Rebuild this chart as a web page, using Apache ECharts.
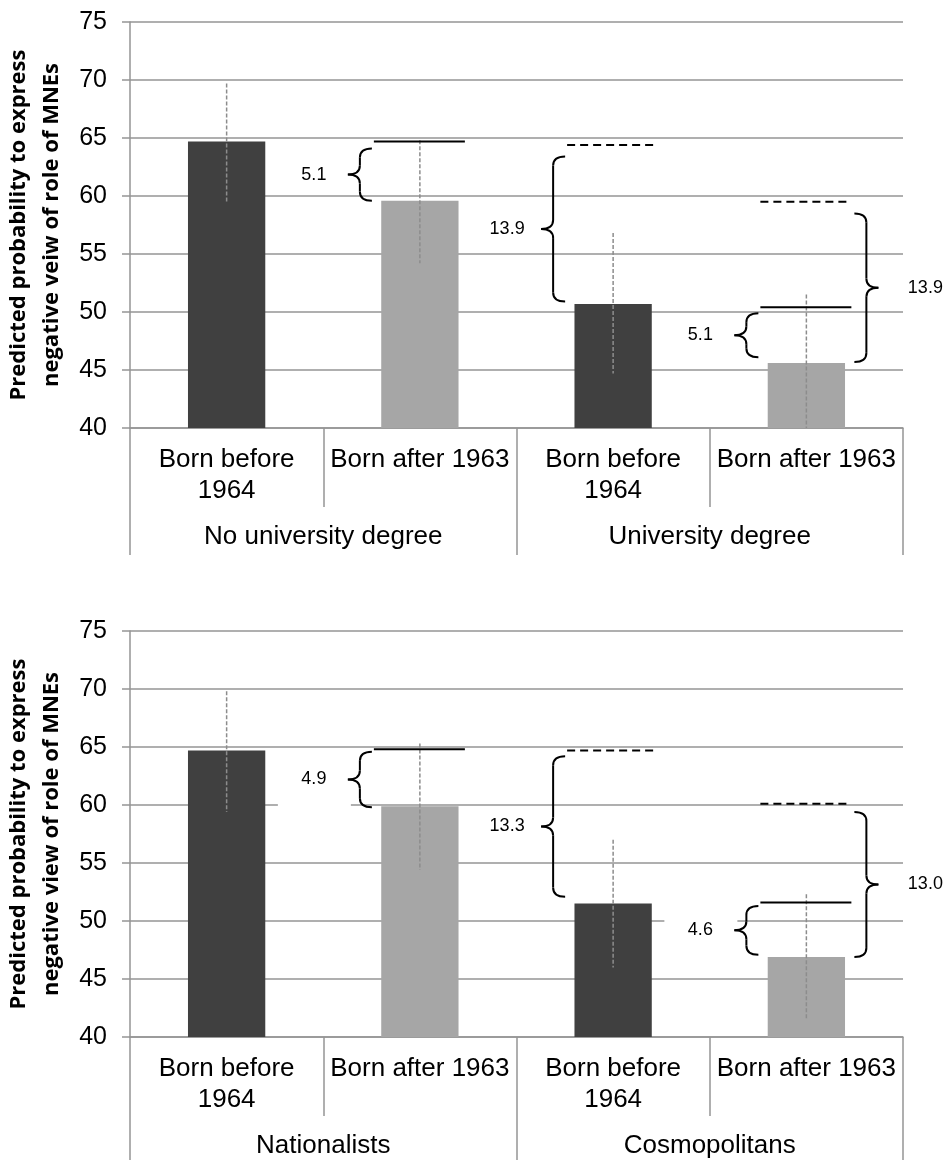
<!DOCTYPE html>
<html>
<head>
<meta charset="utf-8">
<script src="https://cdn.jsdelivr.net/npm/echarts@6/dist/echarts.min.js"></script>
<style>html,body{margin:0;padding:0;background:#fff;}#c{width:947px;height:1160px;}</style>
</head>
<body>
<div id="c"></div>
<script>
// ---- data ----
const categories = ['Born before\n1964', 'Born after 1963', 'Born before\n1964', 'Born after 1963'];
const topGroups = ['No university degree', 'University degree'];
const bottomGroups = ['Nationalists', 'Cosmopolitans'];
const yTicks = [40, 45, 50, 55, 60, 65, 70, 75];

const topValues = [64.7, 59.6, 50.7, 45.6];
const topErrHigh = [69.7, 64.8, 56.8, 51.5];
const topErrLow = [59.5, 54.2, 44.7, 39.7];

const bottomValues = [64.7, 59.9, 51.5, 46.9];
const bottomErrHigh = [69.8, 65.3, 57.0, 52.3];
const bottomErrLow = [59.4, 54.4, 46.0, 41.5];

// difference annotations (reference level line + brace + label)
const topRefCat = [1, 2, 3, 3];
const topRefLevel = [64.7, 64.4, 59.5, 50.4];
const topRefDashed = [false, true, true, false];
const topBraceHigh = [64.1, 63.4, 58.5, 49.9];
const topBraceLow = [59.6, 50.9, 45.7, 46.1];
const topBraceSide = ['left', 'left', 'right', 'left'];
const topBraceText = ['5.1', '13.9', '13.9', '5.1'];

const bottomRefCat = [1, 2, 3, 3];
const bottomRefLevel = [64.8, 64.7, 60.1, 51.6];
const bottomRefDashed = [false, true, true, false];
const bottomBraceHigh = [64.6, 64.2, 59.4, 51.3];
const bottomBraceLow = [59.8, 52.1, 46.9, 47.1];
const bottomBraceSide = ['left', 'left', 'right', 'left'];
const bottomBraceText = ['4.9', '13.3', '13.0', '4.6'];

// ---- styles ----
const GRID_COLOR = '#959595';
const DARK = '#404040', LIGHT = '#a6a6a6';
const FONT = '"Liberation Sans", Arial, sans-serif';

const panels = [
  { refCat: topRefCat, refLevel: topRefLevel, dashed: topRefDashed, high: topBraceHigh, low: topBraceLow,
    side: topBraceSide, text: topBraceText, boxed: [] },
  { refCat: bottomRefCat, refLevel: bottomRefLevel, dashed: bottomRefDashed, high: bottomBraceHigh, low: bottomBraceLow,
    side: bottomBraceSide, text: bottomBraceText, boxed: [0, 3] }
];

function braceElements(bx, yTop, yBot, dir) {
  const e = 12, r = 9;
  const endX = bx - dir * e, tipX = bx + dir * e;
  const ym = (yTop + yBot) / 2;
  const st = { stroke: '#000', lineWidth: 2, fill: null };
  return [
    { type: 'bezierCurve', shape: { x1: endX, y1: yTop, cpx1: bx, cpy1: yTop, x2: bx, y2: yTop + r }, style: st },
    { type: 'line', shape: { x1: bx, y1: yTop + r, x2: bx, y2: ym - r }, style: st },
    { type: 'bezierCurve', shape: { x1: bx, y1: ym - r, cpx1: bx, cpy1: ym, x2: tipX, y2: ym }, style: st },
    { type: 'bezierCurve', shape: { x1: tipX, y1: ym, cpx1: bx, cpy1: ym, x2: bx, y2: ym + r }, style: st },
    { type: 'line', shape: { x1: bx, y1: ym + r, x2: bx, y2: yBot - r }, style: st },
    { type: 'bezierCurve', shape: { x1: bx, y1: yBot - r, cpx1: bx, cpy1: yBot, x2: endX, y2: yBot }, style: st }
  ];
}

function annotationRenderer(p) {
  return function (params, api) {
    const a = panels[p];
    const i = api.value(0);
    const c = api.coord([a.refCat[i], a.refLevel[i]]);
    const cx = c[0], ly = c[1];
    const yTop = api.coord([a.refCat[i], a.high[i]])[1];
    const yBot = api.coord([a.refCat[i], a.low[i]])[1];
    const dir = a.side[i] === 'left' ? -1 : 1;
    const bx = cx + dir * 60;
    const ym = (yTop + yBot) / 2;
    const lx = dir < 0 ? cx - 106 : cx + 119;
    const children = [];
    if (a.boxed.indexOf(i) >= 0) {
      children.push({ type: 'rect', shape: { x: lx - 36, y: ym - 26, width: 73, height: 56 }, style: { fill: '#fff' } });
    }
    children.push({ type: 'line', shape: { x1: cx - 46, y1: ly, x2: cx + 45, y2: ly },
      style: { stroke: '#000', lineWidth: 2, lineDash: a.dashed[i] ? [8, 5] : null } });
    braceElements(bx, yTop, yBot, dir).forEach(el => children.push(el));
    children.push({ type: 'text', x: lx, y: ym,
      style: { text: a.text[i], fill: '#000', font: '18px ' + FONT, align: 'center', verticalAlign: 'middle' } });
    return { type: 'group', children: children };
  };
}

function errRenderer(low, high) {
  return function (params, api) {
    const i = api.value(0);
    const p1 = api.coord([i, high[i]]);
    const p2 = api.coord([i, low[i]]);
    return { type: 'line', shape: { x1: p1[0], y1: p1[1], x2: p2[0], y2: p2[1] },
      style: { stroke: '#8c8c8c', lineWidth: 1.5, lineDash: [4, 2] } };
  };
}

function yAxis(grid, name) {
  return {
    type: 'value', gridIndex: grid, min: yTicks[0], max: yTicks[yTicks.length - 1], interval: 5,
    axisLine: { show: true, lineStyle: { color: GRID_COLOR, width: 1.5 } },
    axisTick: { show: true, length: 8, lineStyle: { color: GRID_COLOR, width: 1.5 } },
    splitLine: { show: true, lineStyle: { color: GRID_COLOR, width: 1.5 } },
    axisLabel: { fontSize: 25, margin: 23, color: '#000', fontFamily: FONT },
    name: name, nameLocation: 'middle', nameGap: 61, nameRotate: 90,
    nameTextStyle: { fontFamily: '"Open Sans", "Noto Sans", sans-serif', fontWeight: 'bold', fontSize: 22, lineHeight: 33, color: '#000' }
  };
}

function innerX(grid) {
  return {
    type: 'category', gridIndex: grid, data: categories, position: 'bottom',
    axisLine: { show: true, lineStyle: { color: GRID_COLOR, width: 1.5 } },
    axisTick: { show: true, length: 79, interval: 0, lineStyle: { color: GRID_COLOR, width: 1.5 } },
    axisLabel: { interval: 0, margin: 16, fontSize: 26, lineHeight: 31, color: '#000', fontFamily: FONT },
    splitLine: { show: false }
  };
}
function outerX(grid, groups) {
  return {
    type: 'category', gridIndex: grid, data: groups, position: 'bottom',
    axisLine: { show: false },
    axisTick: { show: true, length: 127, interval: 0, lineStyle: { color: GRID_COLOR, width: 1.5 } },
    axisLabel: { interval: 0, margin: 93, fontSize: 26, lineHeight: 31, color: '#000', fontFamily: FONT },
    splitLine: { show: false }
  };
}

function barData(vals) {
  return vals.map((v, i) => ({ value: v, itemStyle: { color: i % 2 ? LIGHT : DARK } }));
}

const chart = echarts.init(document.getElementById('c'), null, { renderer: 'canvas' });
chart.setOption({
  animation: false,
  backgroundColor: '#fff',
  grid: [
    { left: 130, top: 22, width: 773, height: 406, containLabel: false, outerBoundsMode: 'none' },
    { left: 130, top: 631, width: 773, height: 406, containLabel: false, outerBoundsMode: 'none' }
  ],
  xAxis: [innerX(0), outerX(0, topGroups), innerX(1), outerX(1, bottomGroups)],
  yAxis: [
    yAxis(0, 'Predicted probability to express\nnegative veiw of role of MNEs'),
    yAxis(1, 'Predicted probability to express\nnegative view of role of MNEs')
  ],
  series: [
    { type: 'bar', xAxisIndex: 0, yAxisIndex: 0, barWidth: '40%', data: barData(topValues) },
    { type: 'bar', xAxisIndex: 2, yAxisIndex: 1, barWidth: '40%', data: barData(bottomValues) },
    { type: 'custom', xAxisIndex: 0, yAxisIndex: 0, clip: true, renderItem: errRenderer(topErrLow, topErrHigh),
      data: topValues.map((v, i) => [i]), z: 3 },
    { type: 'custom', xAxisIndex: 2, yAxisIndex: 1, clip: true, renderItem: errRenderer(bottomErrLow, bottomErrHigh),
      data: bottomValues.map((v, i) => [i]), z: 3 },
    { type: 'custom', xAxisIndex: 0, yAxisIndex: 0, renderItem: annotationRenderer(0),
      data: topBraceText.map((t, i) => [i]), z: 4, silent: true },
    { type: 'custom', xAxisIndex: 2, yAxisIndex: 1, renderItem: annotationRenderer(1),
      data: bottomBraceText.map((t, i) => [i]), z: 4, silent: true }
  ]
});
</script>
</body>
</html>
